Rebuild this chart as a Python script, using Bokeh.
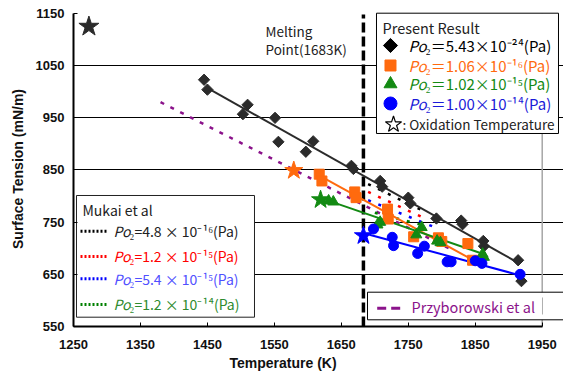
import numpy as np
from bokeh.plotting import figure
from bokeh.models import FixedTicker, Range1d, Title
from bokeh.embed import file_html
from bokeh.resources import INLINE
from bokeh.core.properties import value

# ---------------- data ----------------
x_ticks = [1250, 1350, 1450, 1550, 1650, 1750, 1850, 1950]
y_ticks = [550, 650, 750, 850, 950, 1050, 1150]

t_black = [1445, 1450, 1503, 1510, 1551, 1556, 1597, 1608, 1665, 1668, 1708, 1711, 1750, 1753, 1792, 1829, 1831, 1862, 1863, 1914, 1919]
v_black = [1023, 1004, 957, 975, 950, 904, 885, 905, 858, 852, 829, 818, 797, 786, 757, 753, 746, 714, 704, 677, 637]
fit_black_t = [1449, 1917]
fit_black_v = [1008, 670]

t_orange = [1617, 1621, 1670, 1672, 1719, 1720, 1758, 1795, 1800, 1839, 1846]
v_orange = [842, 829, 808, 797, 775, 756, 722, 720, 713, 709, 677]
fit_orange_t = [1622, 1847]
fit_orange_v = [836, 677]
star_orange = (1579, 849)

t_green = [1631, 1638, 1704, 1708, 1762, 1770, 1793, 1798, 1861, 1863]
v_green = [791, 789, 745, 750, 726, 740, 714, 711, 689, 683]
fit_green_t = [1638, 1862]
fit_green_v = [788, 689]
star_green = (1619, 793)

t_blue = [1698, 1726, 1728, 1764, 1774, 1808, 1814, 1850, 1860, 1917]
v_blue = [737, 721, 705, 690, 704, 674, 674, 676, 671, 650]
fit_blue_t = [1692, 1917]
fit_blue_v = [726, 648]
star_blue = (1683, 724)

star_black = (1273, 1125)

przy_t = [1380, 1818]
przy_v = [980, 695]

mukai_t0 = [1690, 1690, 1690, 1700]
mukai_v0 = [823, 808, 792, 768]
mukai_t1 = [1775, 1770, 1790, 1770]
mukai_v1 = [770, 760, 740, 745]
mukai_colors = ["black", "red", "blue", "green"]

melting_T = 1683

present_labels = ["₂＝5.43×10⁻²⁴(Pa)", "₂＝1.06×10⁻¹⁶(Pa)", "₂＝1.02×10⁻¹⁵(Pa)", "₂＝1.00×10⁻¹⁴(Pa)"]
mukai_labels = ["₂=4.8 × 10⁻¹⁶(Pa)", "₂=1.2 × 10⁻¹⁵(Pa)", "₂=5.4 × 10⁻¹⁵(Pa)", "₂=1.2 × 10⁻¹⁴(Pa)"]

# ---------------- colours ----------------
C_BLACK = "#2b2b2b"
C_ORANGE = "#ff6a0e"
C_GREEN = "#138a13"
C_BLUE = "#0000ff"
C_PURPLE = "#8b138b"

# helpers to place legend decorations (image pixel -> data)
def X(px):
    return 1250 + (px - 73) / 0.6696

def Y(py):
    return 1150 - (py - 13) / 0.52167

p = figure(width=563, height=376, x_range=Range1d(1250, 1981.8), y_range=Range1d(550, 1153.83),
           output_backend="svg", toolbar_location=None,
           min_border_left=73, min_border_right=0, min_border_top=11, min_border_bottom=50)
p.outline_line_color = None
p.background_fill_color = "white"
p.border_fill_color = "white"

p.xgrid.visible = False
p.ygrid.ticker = FixedTicker(ticks=[650, 750, 850, 950, 1050])
p.ygrid.bounds = (1250, 1950)
p.ygrid.grid_line_color = "black"
p.ygrid.grid_line_width = 1
p.ygrid.grid_line_alpha = 1

for ax, ticks in ((p.xaxis, x_ticks), (p.yaxis, y_ticks)):
    ax.ticker = FixedTicker(ticks=ticks)
    ax.axis_line_color = "black"
    ax.axis_line_width = 2
    ax.major_tick_in = 4
    ax.major_tick_out = 0
    ax.minor_tick_line_color = None
    ax.major_tick_line_color = "black"
    ax.major_tick_line_width = 1
    ax.major_label_text_font = "Liberation Sans"
    ax.major_label_text_font_style = "bold"
    ax.major_label_text_font_size = "13px"
    ax.major_label_text_color = "#111111"
    ax.axis_label_text_font = "Liberation Sans"
    ax.axis_label_text_font_style = "bold"
    ax.axis_label_text_font_size = "14px"
    ax.axis_label_text_color = "#111111"
p.xaxis.bounds = (1250, 1950)
p.yaxis.bounds = (550, 1150)
p.yaxis.axis_label = "Surface Tension (mN/m)"
p.xaxis.major_label_standoff = 13
p.yaxis.major_label_standoff = 9
p.yaxis.axis_label_standoff = 7

# x axis title, placed where the reference has it
p.add_layout(Title(text="Temperature (K)", align="left", offset=156, standoff=3,
                   text_font="Liberation Sans", text_font_style="bold", text_font_size="14px",
                   text_color="#111111"), "below")

# right border (grey)
p.segment(x0=[1950], y0=[550], x1=[1950], y1=[1150], line_color="#a6a6a6", line_width=1.5)

# Przyborowski dashed
p.line(przy_t, przy_v, line_color=C_PURPLE, line_width=2.5, line_dash="4 7")
# Mukai dotted
p.segment(x0=mukai_t0, y0=mukai_v0, x1=mukai_t1, y1=mukai_v1, line_color=mukai_colors,
          line_width=2.5, line_dash="3 8")

# melting point
p.segment(x0=[melting_T], y0=[550], x1=[melting_T], y1=[1148], line_color="black", line_width=3.5,
          line_dash="10 4")

# fit lines
p.line(fit_black_t, fit_black_v, line_color=C_BLACK, line_width=2)
p.line(fit_orange_t, fit_orange_v, line_color=C_ORANGE, line_width=2)
p.line(fit_green_t, fit_green_v, line_color=C_GREEN, line_width=2)
p.line(fit_blue_t, fit_blue_v, line_color=C_BLUE, line_width=2)

# points
p.scatter(t_black, v_black, marker="square", angle=np.pi / 4, size=8, color=C_BLACK)
p.scatter(t_orange, v_orange, marker="square", size=10, color=C_ORANGE)
p.scatter(t_green, v_green, marker="triangle", size=11, color=C_GREEN)
p.scatter(t_blue, v_blue, marker="circle", size=10, color=C_BLUE)

# oxidation stars
p.scatter([star_orange[0]], [star_orange[1]], marker="star", size=19, color=C_ORANGE)
p.scatter([star_green[0]], [star_green[1]], marker="star", size=19, color=C_GREEN)
p.scatter([star_blue[0]], [star_blue[1]], marker="star", size=19, color=C_BLUE)
p.scatter([star_black[0]], [star_black[1]], marker="star", size=21, color=C_BLACK)

JP = value("Noto Sans CJK JP")

# melting point text
p.text(x=[X(265), X(265)], y=[Y(31), Y(49)], text=["Melting", "Point(1683K)"], text_font=JP,
       text_font_size="13.5px", text_color="#222222", text_baseline="middle", text_align="left")

# ---- legend: Present Result ----
p.quad(left=[X(376)], right=[X(558)], top=[Y(12.7)], bottom=[Y(133)], fill_color="white",
       line_color="black", line_width=1)
p.text(x=[X(382)], y=[Y(26.7)], text=["Present Result"], text_font=JP, text_font_size="14.5px",
       text_color="#222222", text_baseline="middle")
rows = [45, 65, 83.5, 103]
lx = X(390)
p.scatter([lx], [Y(rows[0])], marker="square", angle=np.pi / 4, size=10, color="black")
p.scatter([lx], [Y(rows[1])], marker="square", size=11, color=C_ORANGE)
p.scatter([lx], [Y(rows[2])], marker="triangle", size=13, color=C_GREEN)
p.scatter([lx], [Y(rows[3])], marker="circle", size=13, color=C_BLUE)
p.scatter([X(393)], [Y(124)], marker="star", size=17, fill_color="white", line_color="black", line_width=1.2)
pcols = ["black", C_ORANGE, C_GREEN, "#1a1ad8"]
p.text(x=[X(408)] * 4, y=[Y(r) for r in rows], text=["Po"] * 4, text_font=JP, text_font_style="italic",
       text_font_size="15px", text_color=pcols, text_baseline="middle")
p.text(x=[X(408)] * 4, y=[Y(r) for r in rows], text=present_labels, text_font=JP, x_offset=17,
       text_font_size="15px", text_color=pcols, text_baseline="middle")
p.text(x=[X(402)], y=[Y(124)], text=[": Oxidation Temperature"], text_font=JP, text_font_size="13.5px",
       text_color="#222222", text_baseline="middle")

# ---- legend: Mukai et al ----
p.quad(left=[X(76)], right=[X(254)], top=[Y(195)], bottom=[Y(316.7)], fill_color="white",
       line_color="#222222", line_width=1)
p.text(x=[X(82)], y=[Y(209.5)], text=["Mukai et al"], text_font=JP, text_font_size="14px",
       text_color="#222222", text_baseline="middle")
mrows = [230.7, 256, 278.3, 304]
p.segment(x0=[X(80)] * 4, y0=[Y(r) for r in mrows], x1=[X(106)] * 4, y1=[Y(r) for r in mrows],
          line_color=mukai_colors, line_width=3, line_dash="2 2")
mcols = ["#222222", "#ff0000", "#5050ff", "#2e8b2e"]
p.text(x=[X(113)] * 4, y=[Y(r) for r in mrows], text=["Po"] * 4, text_font=JP, text_font_style="italic",
       text_font_size="14px", text_color=mcols, text_baseline="middle")
p.text(x=[X(113)] * 4, y=[Y(r) for r in mrows], text=mukai_labels, text_font=JP, x_offset=16,
       text_font_size="14px", text_color=mcols, text_baseline="middle")

# ---- legend: Przyborowski ----
p.quad(left=[X(367)], right=[X(570)], top=[Y(291.7)], bottom=[Y(319.3)], fill_color="white",
       line_color="black", line_width=1)
p.segment(x0=[X(376.7)], y0=[Y(307.7)], x1=[X(400)], y1=[Y(307.7)], line_color=C_PURPLE,
          line_width=3, line_dash="9 5")
p.text(x=[X(411)], y=[Y(306)], text=["Przyborowski  et al"], text_font=JP, text_font_size="14.5px",
       text_color=C_PURPLE, text_baseline="middle")
p.segment(x0=[X(542)], y0=[Y(297)], x1=[X(542)], y1=[Y(314)], line_color="#b0b0b0", line_width=1)

open("out.html", "w").write(file_html(p, INLINE))
